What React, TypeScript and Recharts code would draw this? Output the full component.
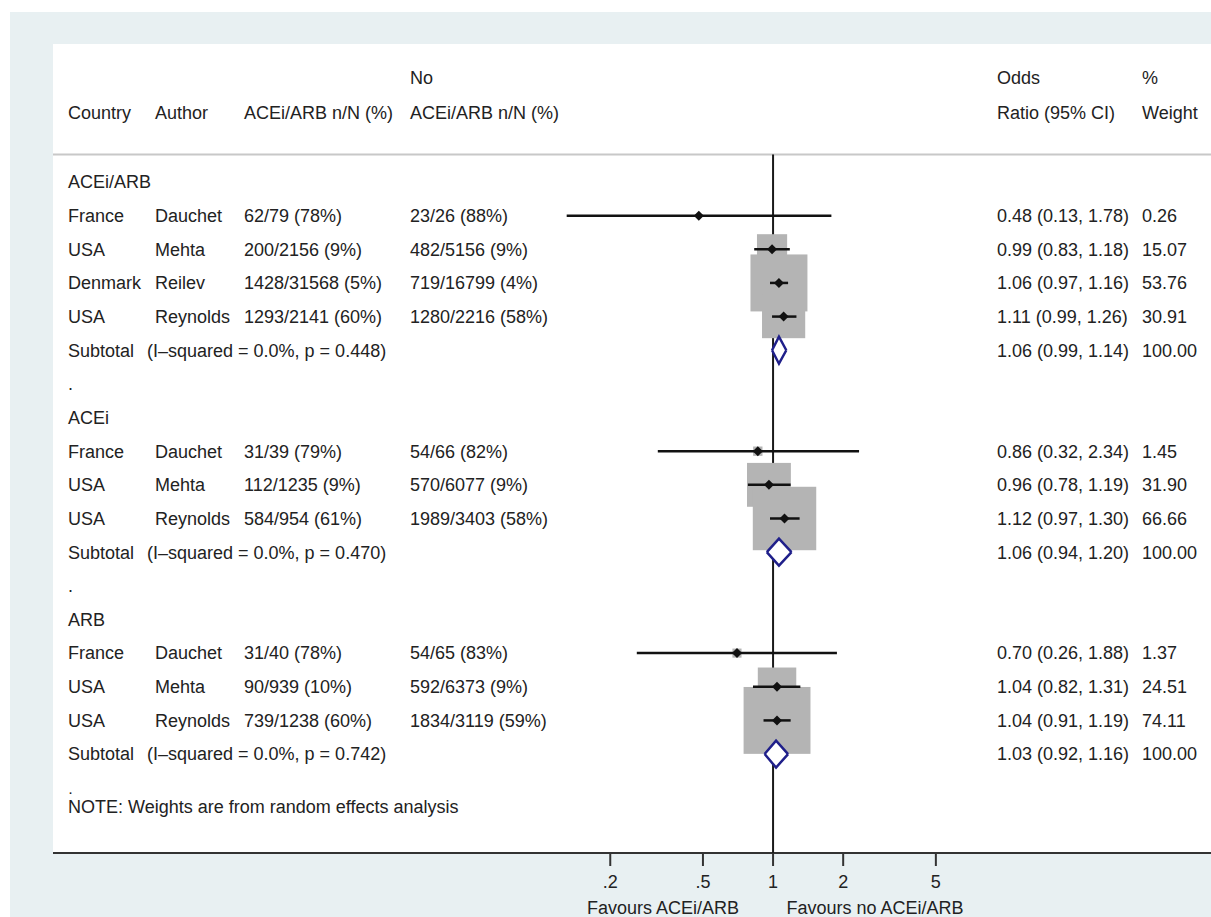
import React from 'react';
import { ComposedChart, XAxis, YAxis, Scatter, Area, ReferenceLine } from 'recharts';

// subgroups
const groupNames = ['ACEi/ARB', 'ACEi', 'ARB'];
const heterogeneity = [
    '(I–squared = 0.0%, p = 0.448)',
    '(I–squared = 0.0%, p = 0.470)',
    '(I–squared = 0.0%, p = 0.742)',
];
const subtotalOR = [1.06, 1.06, 1.03];
const subtotalLow = [0.99, 0.94, 0.92];
const subtotalHigh = [1.14, 1.2, 1.16];

// studies
const studyGroup = [0, 0, 0, 0, 1, 1, 1, 2, 2, 2];
const studyCountry = ['France', 'USA', 'Denmark', 'USA', 'France', 'USA', 'USA', 'France', 'USA', 'USA'];
const studyAuthor = ['Dauchet', 'Mehta', 'Reilev', 'Reynolds', 'Dauchet', 'Mehta', 'Reynolds', 'Dauchet', 'Mehta', 'Reynolds'];
const treated = [
    '62/79 (78%)', '200/2156 (9%)', '1428/31568 (5%)', '1293/2141 (60%)',
    '31/39 (79%)', '112/1235 (9%)', '584/954 (61%)',
    '31/40 (78%)', '90/939 (10%)', '739/1238 (60%)',
];
const control = [
    '23/26 (88%)', '482/5156 (9%)', '719/16799 (4%)', '1280/2216 (58%)',
    '54/66 (82%)', '570/6077 (9%)', '1989/3403 (58%)',
    '54/65 (83%)', '592/6373 (9%)', '1834/3119 (59%)',
];
const oddsRatio = [0.48, 0.99, 1.06, 1.11, 0.86, 0.96, 1.12, 0.7, 1.04, 1.04];
const ciLow = [0.13, 0.83, 0.97, 0.99, 0.32, 0.78, 0.97, 0.26, 0.82, 0.91];
const ciHigh = [1.78, 1.18, 1.16, 1.26, 2.34, 1.19, 1.3, 1.88, 1.31, 1.19];
const weight = [0.26, 15.07, 53.76, 30.91, 1.45, 31.9, 66.66, 1.37, 24.51, 74.11];

const axisTicks = [0.2, 0.5, 1, 2, 5];
const noteText = 'NOTE: Weights are from random effects analysis';

// layout
const X_MIN = 0.00081;
const X_MAX = 75.9;
const Y_TOP = -4.1;
const Y_BOTTOM = 19.94;
const HEADER_LINE = -0.82;
const SQUARE_SCALE = 7.77;
const DIAMOND_HALF = 0.4;
const TEXT = '#222';
const NAVY = '#1f1f8a';
const COL: Record<string, number> = { a: 68, b: 155, h: 147, c: 244, d: 410, e: 997, f: 1142 };

interface Row {
    x: number;
    y: number;
    small?: boolean;
    a?: string; b?: string; h?: string; c?: string; d?: string; e?: string; f?: string;
}

const fmt = (v: number) => v.toFixed(2);

const rows: Row[] = [
    { x: 1, y: -3.09, d: 'No', e: 'Odds', f: '%' },
    { x: 1, y: -2.05, a: 'Country', b: 'Author', c: 'ACEi/ARB n/N (%)', d: 'ACEi/ARB n/N (%)', e: 'Ratio (95% CI)', f: 'Weight' },
];
const studies: any[] = [];
const ciSegments: any[][] = [];
const diamonds: any[][] = [];

let r = 0;
groupNames.forEach((g, gi) => {
    rows.push({ x: 1, y: r++, a: g });
    studyGroup.forEach((sg, i) => {
        if (sg !== gi) return;
        rows.push({
            x: 1,
            y: r,
            a: studyCountry[i],
            b: studyAuthor[i],
            c: treated[i],
            d: control[i],
            e: `${fmt(oddsRatio[i])} (${fmt(ciLow[i])}, ${fmt(ciHigh[i])})`,
            f: fmt(weight[i]),
        });
        studies.push({ x: oddsRatio[i], y: r, w: weight[i] });
        ciSegments.push([{ x: ciLow[i], y: r }, { x: ciHigh[i], y: r }]);
        r++;
    });
    rows.push({
        x: 1,
        y: r,
        a: 'Subtotal',
        h: heterogeneity[gi],
        e: `${fmt(subtotalOR[gi])} (${fmt(subtotalLow[gi])}, ${fmt(subtotalHigh[gi])})`,
        f: '100.00',
    });
    diamonds.push([
        { x: subtotalLow[gi], band: [r, r] },
        { x: subtotalOR[gi], band: [r - DIAMOND_HALF, r + DIAMOND_HALF] },
        { x: subtotalHigh[gi], band: [r, r] },
    ]);
    r++;
    // the last spacer dot sits right above the note, keep it small so the two don't collide
    rows.push({ x: 1, y: r++, a: '.', small: gi === groupNames.length - 1 });
});
rows.push({ x: 1, y: 18.55, a: noteText });

const nullLine = [{ x: 1, y: HEADER_LINE }, { x: 1, y: Y_BOTTOM }];

// draws one table row at the row's y position; columns sit at fixed x
const TableRow = (props: any) => {
    const { cy, payload } = props;
    return (
        <g>
            {(['a', 'b', 'h', 'c', 'd', 'e', 'f'] as const).map((k) =>
                payload[k] ? (
                    payload.small ? (
                        <text key={k} x={COL[k] + 1} y={cy + 6} fontSize={11} fontWeight="bold" fill={TEXT}>
                            {payload[k]}
                        </text>
                    ) : (
                        <text key={k} x={COL[k]} y={cy} dy="0.355em" fontSize={18} fill={TEXT}>
                            {payload[k]}
                        </text>
                    )
                ) : null
            )}
        </g>
    );
};

const WeightSquare = (props: any) => {
    const { cx, cy, payload } = props;
    const s = SQUARE_SCALE * Math.sqrt(payload.w);
    return <rect x={cx - s / 2} y={cy - s / 2} width={s} height={s} fill="#b4b4b4" />;
};

const PointMarker = (props: any) => {
    const { cx, cy } = props;
    const h = 5;
    return <polygon points={`${cx - h},${cy} ${cx},${cy - h} ${cx + h},${cy} ${cx},${cy + h}`} fill="#111" />;
};

const FavoursLabel = () => (
    <g>
        <text x={663} y={908} dy="0.355em" textAnchor="middle" fontSize={18} fill={TEXT}>Favours ACEi/ARB</text>
        <text x={875} y={908} dy="0.355em" textAnchor="middle" fontSize={18} fill={TEXT}>Favours no ACEi/ARB</text>
    </g>
);

const App: React.FC = () => {
    return (
        <div style={{ position: 'absolute', left: 0, top: 0, width: 1211, height: 917, background: '#fff', overflow: 'hidden', fontFamily: "'Liberation Sans', Arial, Helvetica, sans-serif" }}>
            <div style={{ position: 'absolute', left: 10, top: 12, right: 0, bottom: 0, background: '#e8f0f2' }} />
            <div style={{ position: 'absolute', left: 53, top: 44, width: 1158, height: 809, background: '#fff' }} />
            <div style={{ position: 'absolute', left: 0, top: 0 }}>
                <ComposedChart width={1211} height={917} margin={{ top: 44, right: 0, bottom: 0, left: 53 }}>
                    <XAxis
                        type="number"
                        dataKey="x"
                        scale="log"
                        domain={[X_MIN, X_MAX]}
                        allowDataOverflow
                        ticks={axisTicks}
                        interval={0}
                        tickFormatter={(v: number) => (v < 1 ? String(v).replace(/^0/, '') : String(v))}
                        height={64}
                        tickSize={13}
                        tickMargin={9}
                        axisLine={{ stroke: '#333', strokeWidth: 2 }}
                        tickLine={{ stroke: '#333', strokeWidth: 2 }}
                        tick={{ fill: TEXT, fontSize: 18 }}
                        label={<FavoursLabel />}
                    />
                    <YAxis type="number" dataKey="y" domain={[Y_TOP, Y_BOTTOM]} reversed allowDataOverflow hide />
                    <ReferenceLine y={HEADER_LINE} stroke="#c8c8c8" strokeWidth={2} />
                    <Scatter data={rows} shape={<TableRow />} isAnimationActive={false} />
                    <Scatter
                        data={nullLine}
                        line={{ stroke: '#1a1a1a', strokeWidth: 2 }}
                        shape={() => <g />}
                        isAnimationActive={false}
                    />
                    <Scatter data={studies} shape={<WeightSquare />} isAnimationActive={false} />
                    {ciSegments.map((seg, i) => (
                        <Scatter
                            key={`ci-${i}`}
                            data={seg}
                            line={{ stroke: '#111', strokeWidth: 2.5 }}
                            shape={() => <g />}
                            isAnimationActive={false}
                        />
                    ))}
                    <Scatter data={studies} shape={<PointMarker />} isAnimationActive={false} />
                    {diamonds.map((d, i) => (
                        <Area
                            key={`d-${i}`}
                            data={d}
                            dataKey="band"
                            type="linear"
                            stroke={NAVY}
                            strokeWidth={2.5}
                            fill="#fff"
                            fillOpacity={1}
                            dot={false}
                            activeDot={false}
                            isAnimationActive={false}
                            zIndex={700}
                        />
                    ))}
                </ComposedChart>
            </div>
        </div>
    );
};

export default App;
